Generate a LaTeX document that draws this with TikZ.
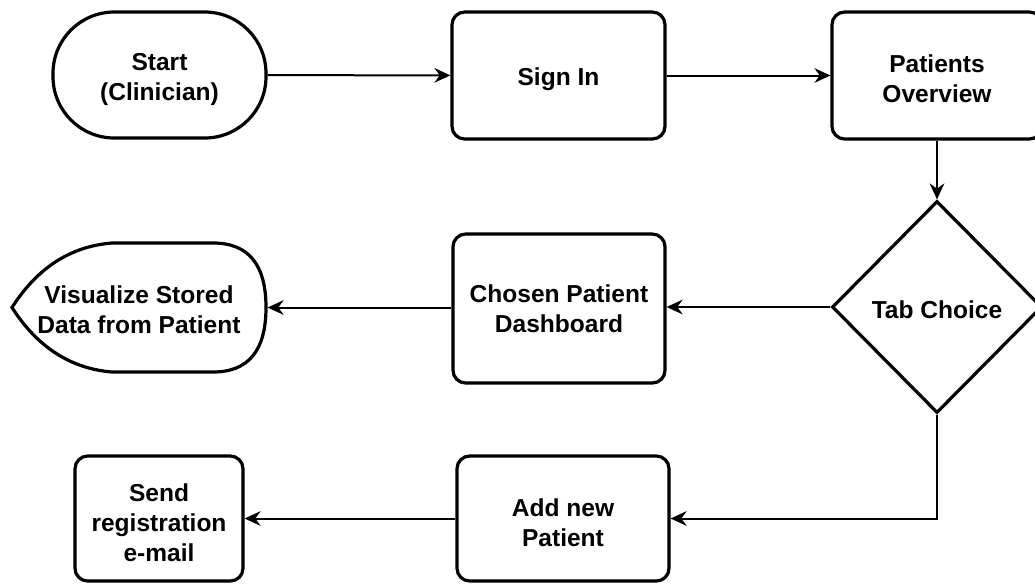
\documentclass[tikz,border=0pt]{standalone}
\usepackage{fontspec}
\setmainfont{Liberation Sans}
\usetikzlibrary{arrows.meta,shapes.geometric}
\newlength\pxl
\setlength\pxl{0.75pt}
% invisible strut that sets the labels a little lower in their shapes
\newcommand\lowerby[1]{\rule{0pt}{\dimexpr 13.5pt+2\dimexpr#1\relax\relax}}
\begin{document}
\begin{tikzpicture}[x=0.75pt,y=-0.75pt,
  every node/.style={font=\fontsize{18.4pt}{22.3pt}\selectfont\bfseries, align=center, inner sep=0pt},
  box/.style={draw, rectangle, line width=2.4pt, rounded corners=9.5pt},
  terminal/.style={draw, rectangle, line width=2.4pt, rounded corners=46pt},
  decision/.style={draw, diamond, line width=2.4pt},
  link/.style={line width=1.5pt, -{Stealth[length=12pt,width=11pt,inset=4pt]}}]
\useasboundingbox (0,0) rectangle (1035,583);
\clip (0,0) rectangle (1035,583);

% top row
\node[terminal, minimum width=213\pxl, minimum height=126\pxl] (start) at (159.5,75) {\lowerby{3pt}Start\\(Clinician)};
\node[box, minimum width=213\pxl, minimum height=127\pxl] (signin) at (558.5,75.5) {\lowerby{3pt}Sign In};
\node[box, minimum width=210\pxl, minimum height=127\pxl] (overview) at (937,75.5) {\lowerby{2.5pt}Patients\\Overview};

% middle row
\node[decision, minimum width=210\pxl, minimum height=212\pxl] (tab) at (937,307) {\lowerby{2pt}Tab Choice};
\node[box, minimum width=212\pxl, minimum height=149\pxl] (chosen) at (559,308.5) {Chosen Patient\\Dashboard};
\draw[line width=2.4pt] (12,307.5)
  .. controls (37.3,267.7) and (70.7,246.3) .. (112,243) -- (213,243)
  .. controls (248.3,243) and (266,264.3) .. (266,307.5)
  .. controls (266,350.7) and (248.3,372) .. (213,372) -- (112,372)
  .. controls (70.7,368.7) and (37.3,347) .. cycle;
\node[minimum width=254\pxl, minimum height=129\pxl, outer sep=1.2pt] (viz) at (139,307.5) {\lowerby{1.5pt}Visualize Stored\\Data from Patient};

% bottom row
\node[box, minimum width=212\pxl, minimum height=125\pxl] (addnew) at (563,518.5) {\lowerby{3pt}Add new\\Patient};
\node[box, minimum width=168\pxl, minimum height=125\pxl] (send) at (159,518.5) {\lowerby{3pt}Send\\registration\\e-mail};

% connectors
\draw[link] (start) -- (signin);
\draw[link] (signin) -- (overview);
\draw[link] (overview) -- (tab);
\draw[link] (tab.west) -- (chosen.east |- tab.west);
\draw[link] (chosen.west |- viz.east) -- (viz.east);
\draw[link] (tab.south) |- (addnew.east);
\draw[link] (addnew) -- (send);
\end{tikzpicture}
\end{document}
